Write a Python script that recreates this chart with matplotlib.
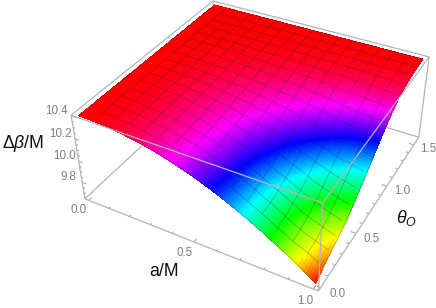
import numpy as np
import matplotlib
matplotlib.use("Agg")
import matplotlib.pyplot as plt
import matplotlib.tri as mtri
from matplotlib.colors import hsv_to_rgb
from mpl_toolkits.mplot3d.art3d import Line3DCollection

plt.rcParams['font.family'] = ['Liberation Sans', 'DejaVu Sans']
plt.rcParams['mathtext.fontset'] = 'custom'
plt.rcParams['mathtext.rm'] = 'Liberation Sans'
plt.rcParams['mathtext.it'] = 'Liberation Sans:italic'

# values
a_values = [0, .125, .25, .375, .5, .625, .75, .875, 1]
theta_values = [0, .196, .393, .589, .785, .982, 1.178, 1.374, 1.571]
dbeta = [
    [10.392, 10.392, 10.392, 10.392, 10.392, 10.392, 10.392, 10.392, 10.392],
    [10.381, 10.382, 10.384, 10.385, 10.387, 10.389, 10.391, 10.392, 10.392],
    [10.346, 10.353, 10.358, 10.365, 10.373, 10.382, 10.388, 10.391, 10.392],
    [10.289, 10.304, 10.316, 10.331, 10.350, 10.369, 10.384, 10.390, 10.392],
    [10.209, 10.231, 10.251, 10.282, 10.317, 10.352, 10.377, 10.388, 10.392],
    [10.106, 10.128, 10.161, 10.212, 10.269, 10.326, 10.369, 10.386, 10.392],
    [9.980, 9.993, 10.043, 10.120, 10.206, 10.292, 10.359, 10.384, 10.392],
    [9.832, 9.850, 9.918, 10.022, 10.139, 10.256, 10.347, 10.381, 10.392],
    [9.660, 9.748, 9.828, 9.953, 10.092, 10.231, 10.333, 10.377, 10.392],
]
a_ticks = [0.0, 0.5, 1.0]
theta_ticks = [0.0, 0.5, 1.0, 1.5]
z_ticks = [9.8, 10.0, 10.2, 10.4]
Z_MIN, Z_MAX = 9.66, 10.392

# view box in data units, and where its corners sit in the 436x308 picture
A0, A1 = -.02, 1.02
T0, T1 = -.03, 1.60
Z0, Z1 = 9.64, 10.405
corner_xyz = [(A0, T0, Z0), (A0, T0, Z1), (A1, T0, Z0), (A1, T0, Z1),
              (A1, T1, Z0), (A1, T1, Z1), (A0, T1, Z1)]
corner_px = [(85, 199), (71, 115), (318, 291), (323, 203),
             (419, 137), (429, 57), (213, 1)]


def camera():
    rows = []
    for (x, y, z), (u, v) in zip(corner_xyz, corner_px):
        rows.append([x, y, z, 1, 0, 0, 0, 0, -u*x, -u*y, -u*z, -u])
        rows.append([0, 0, 0, 0, x, y, z, 1, -v*x, -v*y, -v*z, -v])
    p = np.linalg.svd(np.array(rows, float))[2][-1].reshape(3, 4)
    if p[2] @ np.array([.5, .8, 10, 1]) < 0:
        p = -p
    return np.array([p[0], p[1], [0, 0, 0, -1.0], p[2]])


fig = plt.figure(figsize=(4.36, 3.08), dpi=100)
ax = fig.add_axes([0, 0, 1, 1], projection='3d')
ax.set_axis_off()
ax.computed_zorder = False
M = camera()
ax.get_proj = lambda: M
ax.apply_aspect = lambda position=None: None

# smooth the read table for shading and mesh
ag, tg = np.meshgrid(a_values, theta_values, indexing='ij')
tri = mtri.Triangulation(ag.ravel(), tg.ravel())
interp = mtri.CubicTriInterpolator(tri, np.array(dbeta).ravel(), kind='geom')
n = 96
fa = np.linspace(0, 1, n + 1)
ft = np.linspace(0, 1.571, n + 1) * (1 - 1e-9)
FA, FT = np.meshgrid(fa, ft, indexing='ij')
FZ = np.ma.filled(interp(FA, FT), np.nan)
FZ = np.where(np.isnan(FZ), Z_MAX, FZ)
FZ = np.clip(FZ, Z_MIN, Z_MAX)

hue = (FZ - Z_MIN) / (Z_MAX - Z_MIN)
hc = .25 * (hue[:-1, :-1] + hue[1:, :-1] + hue[:-1, 1:] + hue[1:, 1:])
rgb = hsv_to_rgb(np.dstack([hc, np.ones_like(hc), np.ones_like(hc)]))

grey = '#b4b4b4'


def lines(segs, z):
    ax.add_collection3d(Line3DCollection(segs, colors=grey, linewidths=.9, zorder=z),
                        autolim=False)


def label(x, y, z, s, **style):
    q = M @ np.array([x, y, z, 1.0])
    fig.text(q[0] / q[3] / 436, 1 - q[1] / q[3] / 308, s, **style)


# box edges behind the surface
lines([[(A0, T0, Z0), (A0, T1, Z0)],
       [(A0, T1, Z0), (A1, T1, Z0)],
       [(A0, T1, Z0), (A0, T1, Z1)]], 1)

ax.plot_surface(FA, FT, FZ, facecolors=rgb, rstride=1, cstride=1, shade=False,
                antialiased=False, linewidth=0, zorder=2)
ax.plot_wireframe(FA[:, 6:-1], FT[:, 6:-1], FZ[:, 6:-1], rstride=6, cstride=0,
                  color=(.1, .1, .2, .28), lw=.6, zorder=3)
ax.plot_wireframe(FA[6:-1, :], FT[6:-1, :], FZ[6:-1, :], rstride=0, cstride=6,
                  color=(.1, .1, .2, .28), lw=.6, zorder=3)

# box edges in front, with tick marks
front = [[(A0, T0, Z0), (A1, T0, Z0)],
         [(A1, T0, Z0), (A1, T1, Z0)],
         [(A0, T0, Z0), (A0, T0, Z1)],
         [(A1, T0, Z0), (A1, T0, Z1)],
         [(A1, T1, Z0), (A1, T1, Z1)],
         [(A0, T0, Z1), (A1, T0, Z1)],
         [(A1, T0, Z1), (A1, T1, Z1)],
         [(A0, T0, Z1), (A0, T1, Z1)],
         [(A0, T1, Z1), (A1, T1, Z1)]]
for i in range(11):
    v = i / 10
    L = .03 if i % 5 == 0 else .016
    front.append([(v, T0, Z0), (v, T0 + L, Z0)])
for i in range(16):
    v = i / 10
    L = .022 if i % 5 == 0 else .012
    front.append([(A1, v, Z0), (A1 - L, v, Z0)])
for i in range(16):
    v = 9.65 + i * .05
    L = .02 if i % 4 == 3 else .01
    front.append([(A0, T0, v), (A0 + L, T0, v)])
lines(front, 4)

tick_style = dict(color='#808080', fontsize=8.4, ha='center', va='center')
for v in a_ticks:
    label(v, T0 - .105, Z0, f'{v:.1f}', **tick_style)
for v in theta_ticks:
    label(A1 + .065, v, Z0, f'{v:.1f}', **tick_style)
for v in z_ticks:
    label(A0 - .07, T0, v, f'{v:.1f}', **tick_style)

label_style = dict(fontsize=12.8, color='#111111', ha='center', va='center')
fig.text(164 / 436, 1 - 272 / 308, 'a/M', **label_style)
fig.text(23 / 436, 1 - 143 / 308, r'$\mathrm{\Delta}\mathit{\beta}$/M', **label_style)
fig.text(406 / 436, 1 - 218 / 308, r'$\mathit{\theta}_{\mathit{O}}$', **label_style)

ax.viewLim.intervalx = (0, 436)
ax.viewLim.intervaly = (308, 0)
fig.savefig('out.png', dpi=100)
